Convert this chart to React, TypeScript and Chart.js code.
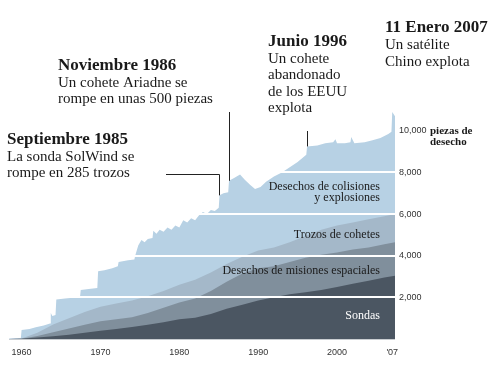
import React, { useEffect, useRef } from "react";
import { Chart, registerables } from "chart.js";

Chart.register(...registerables);

// ---- Data ----
const totalYears = [1958.4, 1959.9, 1960.0, 1961.0, 1961.8, 1962.8, 1963.6, 1963.7, 1963.9, 1964.3, 1964.4, 1965.5, 1966.5, 1967.4, 1967.5, 1968.5, 1969.6, 1969.7, 1970.5, 1971.5, 1972.2, 1972.3, 1973.5, 1974.3, 1974.4, 1974.8, 1975.2, 1975.6, 1976.0, 1976.6, 1976.7, 1977.1, 1977.5, 1978.0, 1978.5, 1979.0, 1979.5, 1980.0, 1980.5, 1981.0, 1981.5, 1982.0, 1982.5, 1983.0, 1983.5, 1984.0, 1984.5, 1985.0, 1985.1, 1985.6, 1986.2, 1986.3, 1987.0, 1987.7, 1988.3, 1989.0, 1989.6, 1990.3, 1991.0, 1992.0, 1993.0, 1994.0, 1995.0, 1996.1, 1996.2, 1997.5, 1998.5, 1999.5, 1999.8, 2000.0, 2001.0, 2001.7, 2001.8, 2002.2, 2003.5, 2004.5, 2005.5, 2006.5, 2006.9, 2007.0, 2007.35];
const totalValues = [20, 40, 430, 480, 560, 650, 750, 1250, 1100, 1150, 1900, 1950, 1980, 2000, 2350, 2400, 2450, 3250, 3300, 3400, 3500, 3700, 3780, 3820, 4000, 4500, 4750, 4650, 4800, 4850, 5200, 5050, 5250, 5150, 5350, 5250, 5450, 5350, 5700, 5600, 5800, 5700, 5950, 6100, 6000, 6200, 6150, 6300, 6900, 7000, 7050, 7600, 7750, 7900, 7650, 7400, 7200, 7300, 7550, 7800, 8000, 8250, 8500, 8850, 9250, 9300, 9400, 9450, 9600, 9400, 9400, 9450, 9700, 9400, 9450, 9550, 9650, 9850, 9950, 10900, 10700];

const layerYears = [1958.4, 1960, 1962, 1964, 1966, 1968, 1970, 1972, 1974, 1976, 1978, 1980, 1982, 1984, 1986, 1988, 1990, 1992, 1994, 1996, 1998, 2000, 2002, 2004, 2006, 2007.35];
const sondasTop = [0, 10, 70, 130, 200, 300, 400, 480, 580, 680, 800, 950, 1020, 1200, 1450, 1650, 1850, 2000, 2150, 2250, 2350, 2500, 2650, 2800, 2950, 3040];
const misionesTop = [0, 15, 150, 330, 500, 680, 850, 950, 1050, 1250, 1500, 1750, 1950, 2300, 2750, 3150, 3400, 3500, 3700, 3900, 4050, 4150, 4300, 4400, 4550, 4650];
const cohetesTop = [0, 20, 300, 700, 1000, 1300, 1550, 1700, 1850, 2050, 2300, 2600, 2850, 3200, 3600, 3950, 4250, 4400, 4650, 4950, 5250, 5450, 5600, 5750, 5900, 6000];

const xTickYears = [1960, 1970, 1980, 1990, 2000, 2007];
const xTickLabels = ["1960", "1970", "1980", "1990", "2000", "'07"];
const yTickValues = [2000, 4000, 6000, 8000, 10000];
const yTickLabels = ["2,000", "4,000", "6,000", "8,000", "10,000"];
const gridValues = [2000, 4000, 6000, 8000];
const yUnitLabel = ["piezas de", "desecho"];

const layerNames = ["Sondas", "Desechos de misiones espaciales", "Trozos de cohetes", "Desechos de colisiones", "y explosiones"];

const eventTitles = ["Septiembre 1985", "Noviembre 1986", "Junio 1996", "11 Enero 2007"];
const eventLines = [
  ["La sonda SolWind se", "rompe en 285 trozos"],
  ["Un cohete Ariadne se", "rompe en unas 500 piezas"],
  ["Un cohete", "abandonado", "de los EEUU", "explota"],
  ["Un satélite", "Chino explota"],
];
const eventYears = [1985.03, 1986.26, 1996.19];
const eventValues = [6900, 7600, 9250];

const COLORS = {
  total: "#b7d1e4",
  cohetes: "#a4b8c9",
  misiones: "#808f9c",
  sondas: "#4b5662",
};

const pts = (xs: number[], ys: number[]) => xs.map((x, i) => ({ x, y: ys[i] }));

const overlay = {
  id: "overlay",
  afterDatasetsDraw(chart: any) {
    const { ctx, chartArea, scales } = chart;
    const y = scales.y;
    ctx.save();
    ctx.strokeStyle = "#ffffff";
    ctx.lineWidth = 2;
    gridValues.forEach((v) => {
      const py = Math.round(y.getPixelForValue(v));
      ctx.beginPath();
      ctx.moveTo(chartArea.left, py);
      ctx.lineTo(chartArea.right, py);
      ctx.stroke();
    });
    ctx.strokeStyle = "#c9cdd1";
    ctx.lineWidth = 1;
    ctx.beginPath();
    ctx.moveTo(chartArea.left, chartArea.bottom + 0.5);
    ctx.lineTo(chartArea.right, chartArea.bottom + 0.5);
    ctx.stroke();
    ctx.restore();
  },
  afterDraw(chart: any) {
    const { ctx, chartArea, scales } = chart;
    const x = scales.x;
    const y = scales.y;
    ctx.save();
    ctx.font = "9px 'Liberation Sans', Arial, sans-serif";
    ctx.fillStyle = "#333";
    ctx.textAlign = "center";
    ctx.textBaseline = "middle";
    xTickYears.forEach((yr, i) => {
      ctx.fillText(xTickLabels[i], x.getPixelForValue(yr), chartArea.bottom + 14);
    });
    ctx.textAlign = "left";
    yTickValues.forEach((v, i) => {
      ctx.fillText(yTickLabels[i], chartArea.right + 4, y.getPixelForValue(v));
    });
    ctx.font = "bold 11px 'Liberation Serif', serif";
    ctx.fillStyle = "#1a1a1a";
    ctx.textBaseline = "alphabetic";
    ctx.fillText(yUnitLabel[0], chartArea.right + 35, y.getPixelForValue(10000) + 3);
    ctx.fillText(yUnitLabel[1], chartArea.right + 35, y.getPixelForValue(10000) + 14);

    ctx.font = "12px 'Liberation Serif', serif";
    ctx.textAlign = "right";
    const lx = 380;
    ctx.fillStyle = "#1a1a1a";
    ctx.fillText(layerNames[3], lx, 190);
    ctx.fillText(layerNames[4], lx, 201);
    ctx.fillText(layerNames[2], lx, 238);
    ctx.fillText(layerNames[1], lx, 274);
    ctx.fillStyle = "#ffffff";
    ctx.fillText(layerNames[0], lx, 319);

    ctx.textAlign = "left";
    const titleFont = "bold 17px 'Liberation Serif', serif";
    const bodyFont = "15px 'Liberation Serif', serif";
    const drawBlock = (i: number, tx: number, ty: number, lh: number) => {
      ctx.fillStyle = "#1a1a1a";
      ctx.font = titleFont;
      ctx.fillText(eventTitles[i], tx, ty);
      ctx.font = bodyFont;
      eventLines[i].forEach((s, j) => ctx.fillText(s, tx, ty + lh * (j + 1)));
    };
    drawBlock(0, 7, 144, 16.5);
    drawBlock(1, 58, 70, 16.5);
    drawBlock(2, 268, 46, 16.5);
    drawBlock(3, 385, 32, 17);

    ctx.strokeStyle = "#222";
    ctx.lineWidth = 1;
    const ex0 = Math.round(x.getPixelForValue(eventYears[0])) + 0.5;
    ctx.beginPath();
    ctx.moveTo(166, 174.5);
    ctx.lineTo(ex0, 174.5);
    ctx.lineTo(ex0, y.getPixelForValue(eventValues[0]));
    ctx.stroke();
    const ex1 = Math.round(x.getPixelForValue(eventYears[1])) + 0.5;
    ctx.beginPath();
    ctx.moveTo(ex1, 112);
    ctx.lineTo(ex1, y.getPixelForValue(eventValues[1]));
    ctx.stroke();
    const ex2 = Math.round(x.getPixelForValue(eventYears[2])) + 0.5;
    ctx.beginPath();
    ctx.moveTo(ex2, 131);
    ctx.lineTo(ex2, y.getPixelForValue(eventValues[2]));
    ctx.stroke();
    ctx.restore();
  },
};

export default function App() {
  const ref = useRef<HTMLCanvasElement | null>(null);
  useEffect(() => {
    if (!ref.current) return;
    const common = { pointRadius: 0, borderWidth: 0, tension: 0, fill: "origin" as const };
    const chart = new Chart(ref.current, {
      type: "line",
      data: {
        datasets: [
          { label: layerNames[0], data: pts(layerYears, sondasTop), backgroundColor: COLORS.sondas, borderColor: COLORS.sondas, ...common },
          { label: layerNames[1], data: pts(layerYears, misionesTop), backgroundColor: COLORS.misiones, borderColor: COLORS.misiones, ...common },
          { label: layerNames[2], data: pts(layerYears, cohetesTop), backgroundColor: COLORS.cohetes, borderColor: COLORS.cohetes, ...common },
          { label: "Total", data: pts(totalYears, totalValues), backgroundColor: COLORS.total, borderColor: COLORS.total, ...common },
        ],
      },
      options: {
        responsive: false,
        animation: false,
        devicePixelRatio: 1,
        layout: { padding: { left: 9, right: 94, top: 110, bottom: 26 } },
        plugins: { legend: { display: false }, tooltip: { enabled: false } },
        scales: {
          x: { type: "linear", min: 1958.4, max: 2007.35, display: false },
          y: { type: "linear", min: 0, max: 11000, display: false },
        },
      },
      plugins: [overlay],
    });
    return () => chart.destroy();
  }, []);
  return (
    <div style={{ position: "absolute", left: 0, top: 0, width: 489, height: 365, background: "#fff" }}>
      <canvas ref={ref} width={489} height={365} style={{ display: "block" }} />
    </div>
  );
}
